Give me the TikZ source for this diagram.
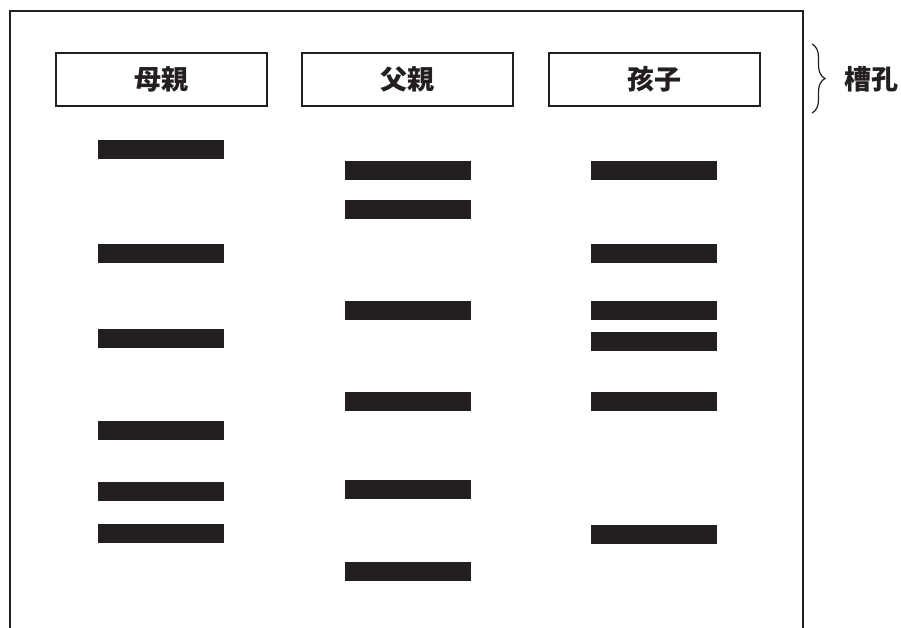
\documentclass[tikz,border=0pt]{standalone}
\usepackage{fontspec}
\newfontfamily\cjk{Noto Sans CJK JP}[BoldFont={Noto Sans CJK JP Black}]
\usetikzlibrary{decorations.pathreplacing}
\definecolor{ink}{HTML}{231F20}
\begin{document}
\begin{tikzpicture}[x=1pt,y=-1pt,
  hdr/.style={draw=ink,line width=2pt,minimum width=211pt,minimum height=53pt,inner sep=0pt,font=\cjk\bfseries\fontsize{27}{27}\selectfont,text=ink},
  bar/.style={fill=ink,draw=none,minimum width=126pt,minimum height=19pt,inner sep=0pt}]
\useasboundingbox (0,0) rectangle (901,627);
\draw[ink,line width=2pt] (10,630) -- (10,11) -- (803,11) -- (803,630);
\node[hdr] (h1) at (161,79) {母親};
\node[hdr] (h2) at (407.5,79) {父親};
\node[hdr] (h3) at (654,79) {孩子};
% column 1
\foreach \y [count=\i] in {149.5,253.5,338.5,430.5,491.5,533.5}
  \node[bar] (m\i) at (161,\y) {};
% column 2
\foreach \y [count=\i] in {170.5,209.5,310.5,401.5,489.5,571.5}
  \node[bar] (f\i) at (407.5,\y) {};
% column 3
\foreach \y [count=\i] in {170.5,253.5,310.5,341.5,401.5,534.5}
  \node[bar] (c\i) at (654,\y) {};
\coordinate (bt) at (812,44);
\coordinate (bb) at (812,113);
\draw[ink,line width=1.2pt,decorate,decoration={brace,amplitude=13pt,raise=0pt}] (bt) -- (bb);
\node[font=\cjk\bfseries\fontsize{27}{27}\selectfont,text=ink,anchor=west,inner sep=0pt] (slot) at (844,79) {槽孔};
\end{tikzpicture}
\end{document}
